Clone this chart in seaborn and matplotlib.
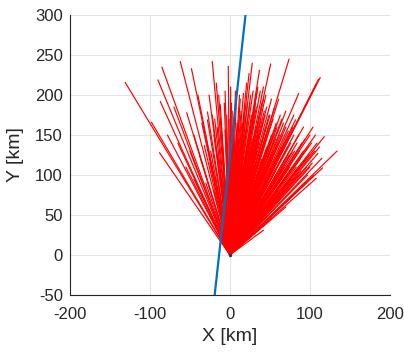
import matplotlib
matplotlib.use("Agg")
import matplotlib.pyplot as plt
import numpy as np
import pandas as pd
import seaborn as sns

# Endpoints (km) of the red rays, all starting at the origin
end_x = [
    -131, -98, -88, -90, -87, -85, -78, -70, -65,
    -62, -54, -48, -45, -40, -38, -35, -32, -28, -28, -25, -22, -22, -20, -18,
    -17, -15, -12, -10, -8, -7, -6, -4, -3, -2, -30, -45, -55, -50, -12, -5,
    2, 3, 4, 5, 6, 7, 8, 10, 10, 12, 13, 14, 15, 16, 17, 18, 19, 20, 20, 21,
    22, 23, 24, 25,
    26, 27, 28, 29, 30, 30, 31, 32, 33, 34, 35, 35, 36, 37, 38, 39, 40, 40,
    41, 42, 43, 44, 45, 45, 46, 47, 48, 49, 50, 51, 52, 53, 55, 56, 57, 58,
    60, 61, 62, 63,
    65, 66, 68, 70, 70, 72, 74, 75, 76, 78, 80, 80, 82, 84, 85, 85, 86, 88,
    90, 90, 92, 95, 95, 98, 100, 100, 104, 105, 108, 108, 110, 111, 113, 115,
    116, 118, 134, 70, 60, 55, 52, 42, 45, 35, 40, 30, 25, 20,
    -26, -24, -19, -16, -14, -11, -9, -6, -4, -1, 0, 1, 3, 5, 6, 8, 9, 11,
    12, 14, 16, 18, 19, 21, 22, 24, 25, 26, 27, 28, 29, 31, 33, 34, 36, 37,
    38, 39, 41, 42, 43, 44, 46, 47, 48, 50, 51, 52, 54, 55, 56, 57, 59, 60,
    62, 63, 64, 66, 67, 68, 69, 71, 72, 73, 74, 76, 77, 79, 81, 83, 86, 87,
    89, 92, 94, 96, 97, 99, 102, 103, 106, 107, 109, 112, 35, 45, 50, 25, 15,
    0, -10, -20, 58, 65,
]
end_y = [
    216, 166, 128, 219, 192, 235, 150, 185, 140,
    242, 178, 233, 150, 200, 125, 165, 137, 169, 179, 115, 175, 242, 150, 95,
    215, 125, 188, 145, 110, 190, 156, 175, 130, 236, 90, 95, 110, 130, 70, 60,
    190, 140, 160, 100, 135, 205, 150, 120, 80, 175, 195, 140, 165, 110, 202,
    150, 185, 100, 130, 215, 170, 140, 227, 190,
    160, 120, 240, 205, 170, 110, 150, 190, 185, 130, 150, 210, 100, 231, 205,
    170, 190, 120, 145, 210, 180, 110, 160, 200, 135, 90, 130, 175, 175, 239,
    150, 120, 150, 185, 105, 165, 140, 195, 125, 80,
    170, 150, 110, 160, 180, 135, 245, 110, 95, 129, 150, 175, 169, 140, 100,
    80, 202, 120, 140, 115, 160, 120, 90, 135, 110, 150, 160, 100, 96, 214,
    127, 220, 222, 121, 109, 148, 130, 60, 80, 70, 46, 31, 55, 45, 70, 60, 40,
    50,
    200, 130, 170, 160, 200, 165, 130, 205, 140, 170, 150, 210, 180, 170, 118,
    190, 165, 145, 200, 180, 130, 170, 120, 160, 190, 150, 130, 200, 175, 145,
    125, 180, 160, 205, 140, 175, 155, 115, 165, 195, 140, 175, 185, 150, 160,
    140, 120, 195, 170, 130, 110, 145, 160, 120, 150, 175, 135, 100, 165, 140,
    120, 145, 100, 155, 125, 140, 115, 160, 130, 110, 150, 130, 105, 130, 145,
    110, 100, 125, 140, 115, 130, 150, 140, 135, 80, 85, 100, 90, 85, 100, 90,
    80, 95, 130,
]

# Blue line endpoints (km)
blue_x = [-19, 19.5]
blue_y = [-50, 300]

x_ticks = [-200, -100, 0, 100, 200]
y_ticks = [-50, 0, 50, 100, 150, 200, 250, 300]

sns.set_theme(style="white")
plt.rcParams["font.family"] = ["Liberation Sans", "DejaVu Sans"]
plt.rcParams["axes.unicode_minus"] = False

fig = plt.figure(figsize=(4.04, 3.52), dpi=100)
ax = fig.add_axes([0.173, 0.162, 0.792, 0.795])

rows = []
for i, (x, y) in enumerate(zip(end_x, end_y)):
    rows.append((i, 0.0, 0.0))
    rows.append((i, x, y))
df = pd.DataFrame(rows, columns=["id", "x", "y"])

sns.lineplot(data=df, x="x", y="y", units="id", estimator=None, sort=False,
             color="#ff0000", linewidth=0.85, ax=ax, legend=False)
sns.lineplot(x=blue_x, y=blue_y, estimator=None, sort=False,
             color="#0072BD", linewidth=1.6, ax=ax, legend=False)
ax.plot([0], [0], marker="o", markersize=1.5, color="#333333", zorder=5)

ax.set_xlim(-200, 200)
ax.set_ylim(-50, 300)
ax.set_xticks(x_ticks)
ax.set_yticks(y_ticks)
ax.grid(True, color="#e3e3e3", linewidth=0.8)
ax.set_axisbelow(True)
for s in ["top", "right"]:
    ax.spines[s].set_visible(False)
for s in ["left", "bottom"]:
    ax.spines[s].set_color("#262626")
    ax.spines[s].set_linewidth(0.8)
ax.tick_params(direction="in", length=3.5, width=0.8, colors="#262626",
               labelsize=12)
ax.tick_params(axis="x", pad=9)
ax.tick_params(axis="y", pad=5)
ax.set_xlabel("X [km]", fontsize=14, color="#262626", labelpad=4)
ax.set_ylabel("Y [km]", fontsize=14, color="#262626", labelpad=8)

fig.savefig("out.png", dpi=100)
